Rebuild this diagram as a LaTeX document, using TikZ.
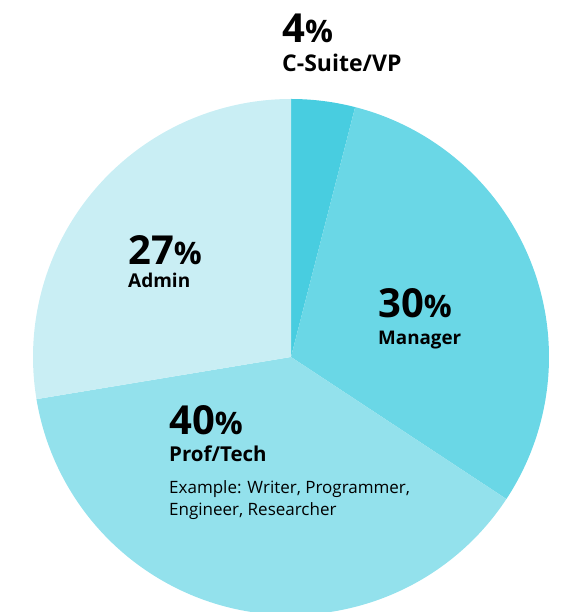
\documentclass[tikz,border=0pt]{standalone}
\usepackage{fontspec}
\setmainfont{Open Sans}
\definecolor{csuite}{HTML}{48CDE0}
\definecolor{manager}{HTML}{6AD7E6}
\definecolor{proftech}{HTML}{93E1EC}
\definecolor{admin}{HTML}{C9EEF4}
\tikzset{
  pct/.style={anchor=base west, inner sep=0pt, font=\bfseries\fontsize{40}{40}\selectfont},
  lbl/.style={anchor=base west, inner sep=0pt, font=\bfseries\fontsize{#1}{#1}\selectfont},
  lbl/.default=20,
  small/.style={anchor=base west, inner sep=0pt, align=left, font=\fontsize{17}{22}\selectfont},
}
\newcommand{\pc}{{\fontsize{31}{31}\selectfont\%}}
\begin{document}
\begin{tikzpicture}[x=1pt,y=1pt]
\useasboundingbox (0,0) rectangle (566,612);
\clip (0,0) rectangle (566,612);
\coordinate (c) at (291,255);
\fill[csuite] (c) -- ++(90:258) arc[start angle=90,end angle=75.6,radius=258] -- cycle;
\fill[manager] (c) -- ++(75.6:258) arc[start angle=75.6,end angle=-33.4,radius=258] -- cycle;
\fill[proftech] (c) -- ++(-33.4:258) arc[start angle=-33.4,end angle=-170.6,radius=258] -- cycle;
\fill[admin] (c) -- ++(-170.6:258) arc[start angle=-170.6,end angle=-270,radius=258] -- cycle;
\node[pct] (p4) at (282,569) {4\pc};
\node[lbl=23] (l4) at (282,540) {C-Suite/VP};
\node[pct] (p27) at (128,347) {27\pc};
\node[lbl=19] (l27) at (128,324) {Admin};
\node[pct] (p30) at (378,294) {30\pc};
\node[lbl=18.8] (l30) at (378,267) {Manager};
\node[pct] (p40) at (169,177) {40\pc};
\node[lbl=20.5] (l40) at (169,150) {Prof/Tech};
\node[small] (ex) at (169,96) {Example: Writer, Programmer,\\Engineer, Researcher};
\end{tikzpicture}
\end{document}
